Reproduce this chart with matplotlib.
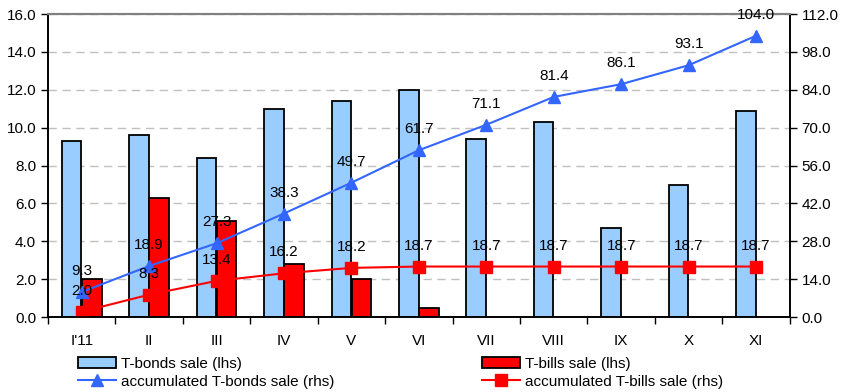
import numpy as np
import matplotlib
matplotlib.use("Agg")
import matplotlib.pyplot as plt
from matplotlib.ticker import FixedLocator

plt.rcParams['font.family'] = ['Liberation Sans', 'DejaVu Sans']

months = ["I'11", "II", "III", "IV", "V", "VI", "VII", "VIII", "IX", "X", "XI"]
bonds_sale = [9.3, 9.6, 8.4, 11.0, 11.4, 12.0, 9.4, 10.3, 4.7, 7.0, 10.9]
bills_sale = [2.0, 6.3, 5.1, 2.8, 2.0, 0.5, 0.0, 0.0, 0.0, 0.0, 0.0]
bonds_acc = [9.3, 18.9, 27.3, 38.3, 49.7, 61.7, 71.1, 81.4, 86.1, 93.1, 104.0]
bills_acc = [2.0, 8.3, 13.4, 16.2, 18.2, 18.7, 18.7, 18.7, 18.7, 18.7, 18.7]

x = np.arange(len(months))
w = 0.29
fs = 11

fig = plt.figure(figsize=(8.42, 3.92), dpi=100)
ax = fig.add_axes([0.057, 0.191, 0.881, 0.773])
ax2 = ax.twinx()

ax.set_zorder(1)
ax2.set_zorder(2)
ax2.patch.set_visible(False)

b1 = ax.bar(x - w / 2 - 0.005, bonds_sale, width=w, color='#99ccff', edgecolor='black',
            linewidth=1.3, zorder=3)
bills_x = [xi for xi, v in zip(x, bills_sale) if v > 0]
bills_v = [v for v in bills_sale if v > 0]
b2 = ax.bar(np.array(bills_x) + w / 2 + 0.005, bills_v, width=w, color='#ff0000',
            edgecolor='black', linewidth=1.3, zorder=3)

l1, = ax2.plot(x, bonds_acc, color='#3366ff', marker='^', markersize=8, linewidth=1.5)
l2, = ax2.plot(x, bills_acc, color='#ff0000', marker='s', markersize=8, linewidth=1.5)

for xi, v in zip(x, bonds_acc):
    ax2.annotate(f"{v:.1f}", (xi, v), xytext=(0, 10), textcoords='offset points',
                 ha='center', va='bottom', fontsize=fs, color='black', zorder=5)
for xi, v in zip(x, bills_acc):
    ax2.annotate(f"{v:.1f}", (xi, v), xytext=(0, 10), textcoords='offset points',
                 ha='center', va='bottom', fontsize=fs, color='black', zorder=5)

ax.set_xlim(-0.5, len(months) - 0.5)
ax.set_ylim(0, 16)
ax2.set_ylim(0, 112)
ax.set_yticks(np.arange(0, 16.1, 2))
ax.set_yticklabels([f"{v:.1f}" for v in np.arange(0, 16.1, 2)])
ax2.set_yticks(np.arange(0, 112.1, 14))
ax2.set_yticklabels([f"{v:.1f}" for v in np.arange(0, 112.1, 14)])

ax.set_xticks(x)
ax.set_xticklabels(months)
ax.xaxis.set_minor_locator(FixedLocator(np.arange(-0.5, len(months), 1)))
ax.tick_params(axis='x', which='major', length=0, pad=12, labelsize=fs)
ax.tick_params(axis='x', which='minor', length=5, width=1, direction='out')
ax.tick_params(axis='y', length=5, width=1, labelsize=fs, direction='out')
ax2.tick_params(axis='y', length=5, width=1, labelsize=fs, direction='out')

ax.yaxis.grid(True, linestyle=(0, (6, 4)), color='#c0c0c0', linewidth=1)
ax.set_axisbelow(True)

for a in (ax, ax2):
    a.spines['top'].set_color('#808080')
    a.spines['top'].set_linewidth(1.5)
    a.spines['left'].set_linewidth(1.2)
    a.spines['right'].set_linewidth(1.2)
    a.spines['bottom'].set_linewidth(1.2)

fig.legend([b1, l1, b2, l2],
           ['T-bonds sale (lhs)', 'accumulated T-bonds sale (rhs)',
            'T-bills sale (lhs)', 'accumulated T-bills sale (rhs)'],
           ncol=2, loc='lower left', bbox_to_anchor=(0.082, -0.015), frameon=False,
           fontsize=fs, handlelength=2.5, handletextpad=0.3, columnspacing=9.65,
           labelspacing=0.25, borderaxespad=0.2)

fig.savefig("out.png", dpi=100)
